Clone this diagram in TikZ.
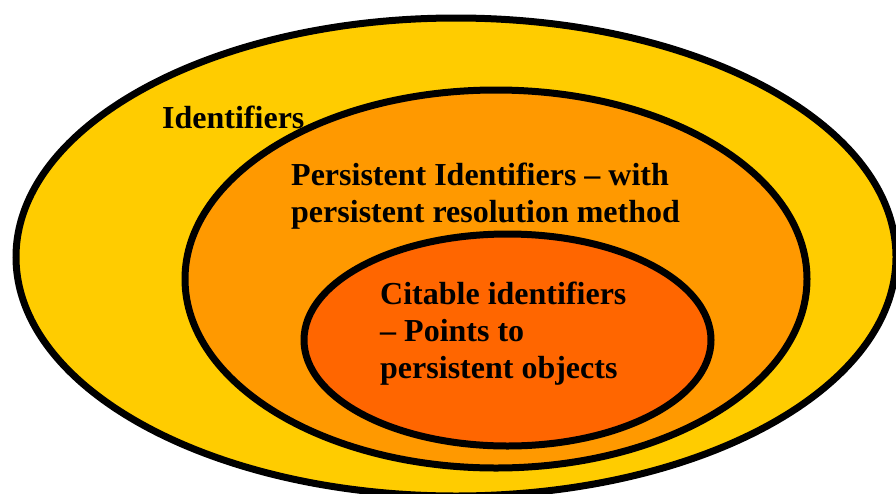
\documentclass[tikz,border=0pt]{standalone}
\usepackage{fontspec}
\setmainfont{Liberation Serif}
\definecolor{outerfill}{HTML}{FFCC00}
\definecolor{midfill}{HTML}{FF9900}
\definecolor{innerfill}{HTML}{FF6600}
\tikzset{
  ring/.style={draw=black, line width=7pt},
  lbl/.style={anchor=base west, align=left, inner sep=0pt, font=\fontsize{32}{37}\selectfont\bfseries}
}
\begin{document}
\begin{tikzpicture}[x=1pt,y=-1pt]
\useasboundingbox (0,0) rectangle (896,493);
\clip (0,0) rectangle (896,493);
\fill[white] (0,0) rectangle (896,493);
\path[ring, fill=outerfill] (456,257) ellipse [x radius=440pt, y radius=239pt];
\path[ring, fill=midfill] (496,279) ellipse [x radius=311pt, y radius=189pt];
\path[ring, fill=innerfill] (507.5,340) ellipse [x radius=203.5pt, y radius=106pt];
\node[lbl] (ids) at (162,128) {Identifiers};
\node[lbl] (pids) at (291,222) {Persistent Identifiers – with\\persistent resolution method};
\node[lbl] (cids) at (380,378) {Citable identifiers\\– Points to\\persistent objects};
\end{tikzpicture}
\end{document}
